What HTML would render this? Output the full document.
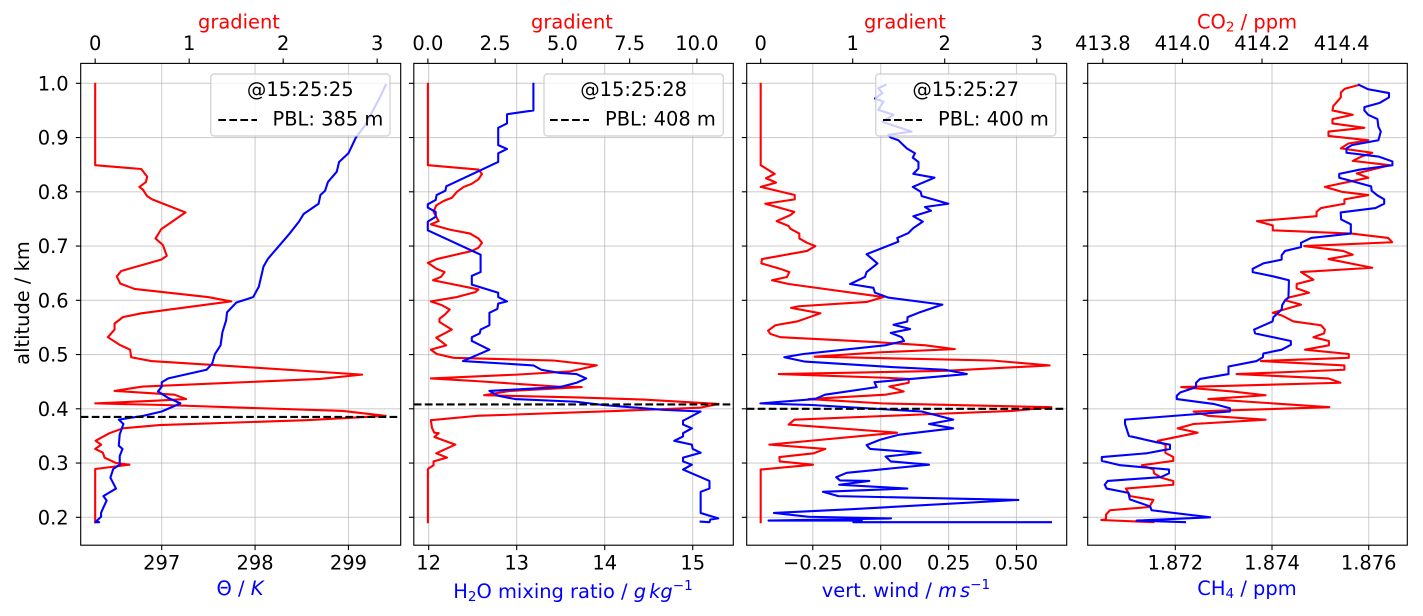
<!DOCTYPE html>
<html lang="en">
<head>
<meta charset="utf-8">
<title>Vertical profiles</title>
<style>
html,body{margin:0;padding:0;background:#fff;width:1423px;height:616px;overflow:hidden}
svg{display:block}
text{font-family:"DejaVu Sans","Liberation Sans",sans-serif;font-size:19.44px;fill:#000}
.red{fill:#f00}.blue{fill:#00f}
.frame{fill:none;stroke:#000;stroke-width:1.11}
.legend-box{fill:#fff;fill-opacity:.8;stroke:#ccc;stroke-opacity:.8;stroke-width:1.4}
.legend-line{stroke:#000;stroke-width:2.08;stroke-dasharray:7.7 3.33}
</style>
</head>
<body>
<svg xmlns="http://www.w3.org/2000/svg" width="1423" height="616" viewBox="0 0 1423 616">
  <rect width="1423" height="616" fill="#fff"/>

  <g id="panel-0"></g>
  <g>
    <rect class="legend-box" x="210.7" y="74" width="179.3" height="62" rx="3.5"/>
    <text x="300.3" y="96" text-anchor="middle">@15:25:25</text>
    <line class="legend-line" x1="218.3" x2="257" y1="120" y2="120"/>
    <text x="272.5" y="125.5">PBL: 385 m</text>
  </g>

  <g id="panel-1"></g>
  <g>
    <rect class="legend-box" x="544" y="74" width="179.3" height="62" rx="3.5"/>
    <text x="633.6" y="96" text-anchor="middle">@15:25:28</text>
    <line class="legend-line" x1="550" x2="589" y1="120" y2="120"/>
    <text x="605" y="125.5">PBL: 408 m</text>
  </g>

  <g id="panel-2"></g>
  <g>
    <rect class="legend-box" x="875.7" y="74" width="180" height="62" rx="3.5"/>
    <text x="965.7" y="96" text-anchor="middle">@15:25:27</text>
    <line class="legend-line" x1="883" x2="922" y1="120" y2="120"/>
    <text x="938" y="125.5">PBL: 400 m</text>
  </g>

  <g id="panel-3"></g>

  <g id="frames"></g>
  <g id="ticks"></g>

  <text class="red" x="239" y="28.5" text-anchor="middle">gradient</text>
  <text class="red" x="572" y="28.5" text-anchor="middle">gradient</text>
  <text class="red" x="905" y="28.5" text-anchor="middle">gradient</text>
  <text class="red" x="1247" y="28.5" text-anchor="middle">CO<tspan dy="3" style="font-size:13.6px">2</tspan><tspan dy="-3"> / ppm</tspan></text>

  <text class="blue" x="240" y="595" text-anchor="middle">Θ / <tspan font-style="italic">K</tspan></text>
  <text class="blue" x="573" y="598" text-anchor="middle">H<tspan dy="3" style="font-size:13.6px">2</tspan><tspan dy="-3">O mixing ratio / </tspan><tspan font-style="italic">g</tspan><tspan font-style="italic" dx="3">kg</tspan><tspan dy="-8" style="font-size:13.6px">−1</tspan></text>
  <text class="blue" x="906" y="597" text-anchor="middle">vert. wind / <tspan font-style="italic">m</tspan><tspan font-style="italic" dx="3">s</tspan><tspan dy="-8" style="font-size:13.6px">−1</tspan></text>
  <text class="blue" x="1247" y="595" text-anchor="middle">CH<tspan dy="3" style="font-size:13.6px">4</tspan><tspan dy="-3"> / ppm</tspan></text>

  <text x="29" y="303" text-anchor="middle" transform="rotate(-90 29 303)">altitude / km</text>
</svg>

<script>
// ---- shared altitude axis ----
const altitudeTicks = [0.2, 0.3, 0.4, 0.5, 0.6, 0.7, 0.8, 0.9, 1.0];
const altitudeTickLabels = ["0.2", "0.3", "0.4", "0.5", "0.6", "0.7", "0.8", "0.9", "1.0"];

// ---- panel 1: potential temperature ----
const thetaAltitude = [.997,.975,.923,.9,.871,.855,.837,.818,.802,.794,.778,.759,.745,.723,.695,.677,.662,.625,.606,.603,.596,.578,.563,.541,.517,.501,.483,.472,.456,.449,.441,.432,.42,.41,.395,.387,.38,.372,.353,.332,.326,.313,.297,.289,.273,.253,.239,.231,.218,.208,.201,.193,.191,.191];
const thetaValues = [299.4,299.34,299.18,299.08,299,298.9,298.875,298.78,298.75,298.7,298.68,298.52,298.47,298.37,298.23,298.14,298.09,298.04,297.98,297.93,297.8,297.7,297.69,297.65,297.63,297.57,297.54,297.48,297.07,297,297,296.96,297.07,297.2,297,296.8,296.54,296.59,296.55,296.54,296.58,296.55,296.55,296.48,296.45,296.51,296.375,296.41,296.375,296.35,296.35,296.3,296.33,296.29];
const thetaGradAltitude = [.999,.849,.842,.828,.818,.809,.804,.792,.786,.762,.731,.714,.702,.682,.675,.654,.644,.631,.621,.606,.598,.594,.576,.569,.557,.546,.532,.518,.509,.495,.488,.477,.463,.455,.441,.433,.426,.418,.415,.41,.407,.396,.387,.379,.37,.364,.355,.341,.334,.326,.319,.31,.3,.297,.289,.191];
const thetaGradValues = [0,0,.49,.553,.54,.47,.507,.553,.606,.961,.702,.642,.72,.762,.702,.277,.23,.266,.418,1.199,1.447,1.27,.49,.294,.206,.206,.135,.259,.372,.383,.596,1.606,2.84,2.39,.507,.206,.844,.968,.649,0,.727,2.635,3.09,2.245,.684,.294,.152,.004,.064,0,.082,.1,.223,.365,0,0];
const thetaTicks = [297, 298, 299];
const thetaTickLabels = ["297", "298", "299"];
const thetaGradTicks = [0, 1, 2, 3];
const thetaGradTickLabels = ["0", "1", "2", "3"];
const thetaPbl = 0.385;

// ---- panel 2: water vapour ----
const waterAltitude = [.999,.95,.943,.926,.918,.886,.879,.871,.855,.81,.802,.794,.785,.777,.771,.763,.754,.745,.729,.684,.652,.645,.629,.614,.606,.598,.594,.584,.577,.554,.546,.539,.532,.525,.509,.488,.48,.472,.466,.464,.456,.448,.44,.433,.424,.418,.413,.407,.398,.395,.378,.371,.364,.355,.349,.341,.334,.326,.319,.31,.303,.297,.288,.267,.253,.247,.208,.198,.196,.191,.192];
const waterValues = [13.19,13.19,12.89,12.89,12.79,12.79,12.89,12.79,12.79,12.2,12.19,12.09,12.08,11.99,11.99,12.08,12.08,11.99,11.99,12.59,12.59,12.49,12.49,12.79,12.79,12.89,12.79,12.78,12.69,12.69,12.59,12.58,12.49,12.49,12.69,12.39,13.19,13.28,13.49,13.68,13.79,13.68,13.49,12.69,12.79,12.98,13.68,13.98,14.67,15.09,14.89,14.89,14.99,14.89,14.89,14.79,14.99,15,15.09,14.89,14.89,14.99,14.89,15.19,15.19,15.09,15.09,15.29,15.2,15.19,15.09];
const waterGradAltitude = [.999,.849,.841,.833,.823,.815,.809,.8,.789,.783,.775,.763,.754,.746,.74,.73,.723,.714,.706,.697,.691,.676,.669,.658,.652,.643,.637,.62,.615,.606,.598,.591,.583,.574,.566,.56,.546,.538,.531,.517,.509,.501,.494,.489,.48,.469,.463,.456,.451,.441,.44,.433,.425,.421,.417,.409,.402,.396,.387,.379,.365,.356,.355,.348,.334,.318,.31,.303,.296,.29,.288,.191];
const waterGradValues = [0,0,1.88,2.01,1.88,1.64,1.33,1.08,.89,.58,.31,.21,.31,.4,.11,.83,1.57,1.88,2.01,1.88,1.64,.33,0,.33,.62,.48,.19,1.88,1.76,1.08,.11,.52,.81,.64,.43,.43,.89,.58,.31,.68,.11,.33,.95,4.67,6.28,5.29,3.31,.11,1.82,4.8,5.72,3.06,2.09,5.54,8.02,10.8,10.12,7.03,1.82,.11,.15,.24,.4,.24,1.02,.31,.71,.21,.21,.02,0,0];
const waterTicks = [12, 13, 14, 15];
const waterTickLabels = ["12", "13", "14", "15"];
const waterGradTicks = [0, 2.5, 5, 7.5, 10];
const waterGradTickLabels = ["0.0", "2.5", "5.0", "7.5", "10.0"];
const waterPbl = 0.408;

// ---- panel 3: vertical wind ----
const windAltitude = [.997,.991,.982,.972,.966,.951,.942,.929,.911,.905,.9,.895,.88,.871,.863,.855,.843,.833,.826,.809,.8,.792,.778,.772,.765,.755,.745,.733,.724,.715,.708,.685,.668,.652,.643,.63,.623,.614,.605,.592,.577,.569,.561,.555,.547,.54,.532,.525,.517,.501,.495,.487,.477,.472,.464,.453,.449,.44,.426,.418,.41,.407,.395,.38,.372,.364,.352,.343,.333,.326,.319,.312,.303,.297,.282,.274,.268,.267,.26,.253,.247,.239,.232,.215,.208,.201,.198,.194,.194,.191,.191];
const windValues = [.018,-.009,.006,-.021,.01,-.009,.047,.006,.114,.028,.037,.065,.096,.126,.118,.139,.139,.12,.198,.118,.147,.151,.249,.163,.185,.12,.155,.12,.102,.061,.065,-.052,-.012,-.052,-.058,-.113,-.027,-.021,.028,.227,.139,.099,.098,.047,.108,.037,.077,.086,.016,-.285,-.355,-.279,.04,.237,.317,.065,-.023,-.015,-.205,-.242,-.443,-.254,.151,.267,.178,.267,.065,-.002,-.052,-.039,.147,.018,.037,.178,-.125,-.164,-.15,-.042,-.153,.098,-.213,-.156,.507,-.107,-.393,-.266,.038,-.413,-.07,-.101,.627];
const windGradAltitude = [.999,.849,.833,.825,.817,.809,.794,.786,.778,.763,.757,.746,.737,.732,.723,.714,.706,.7,.691,.676,.668,.658,.652,.643,.637,.63,.625,.606,.597,.589,.586,.576,.561,.554,.544,.538,.532,.523,.517,.51,.504,.496,.489,.48,.47,.464,.457,.455,.448,.441,.432,.426,.418,.41,.403,.396,.39,.38,.371,.356,.334,.326,.318,.311,.303,.297,.288,.191];
const windGradValues = [0,0,.152,.058,.167,0,.37,.37,.05,.366,.322,.174,.304,.322,.42,.42,.504,.594,.504,.014,.007,.214,.312,.286,.123,.304,.52,1.337,1.156,.413,.33,.649,.395,.159,.08,.105,.214,1.246,1.79,2.11,1.28,.587,2.514,3.14,2.007,.196,1.391,1.609,1.609,1.398,1.554,1.355,.52,1.32,3.16,2.73,1.808,.366,.304,1.482,.094,.703,.576,.203,.207,.569,0,0];
const windTicks = [-0.25, 0, 0.25, 0.5];
const windTickLabels = ["−0.25", "0.00", "0.25", "0.50"];
const windGradTicks = [0, 1, 2, 3];
const windGradTickLabels = ["0", "1", "2", "3"];
const windPbl = 0.400;

// ---- panel 4: trace gases ----
const ch4Altitude = [.997,.989,.982,.974,.964,.956,.95,.942,.934,.92,.911,.895,.886,.88,.872,.865,.856,.849,.841,.833,.826,.818,.81,.802,.794,.786,.778,.77,.762,.749,.74,.723,.715,.706,.698,.691,.683,.675,.668,.658,.652,.644,.637,.605,.6,.591,.583,.569,.561,.546,.539,.525,.518,.509,.502,.495,.488,.478,.464,.455,.448,.44,.43,.424,.418,.409,.401,.395,.38,.372,.35,.338,.334,.326,.318,.311,.304,.296,.288,.281,.274,.267,.26,.253,.245,.233,.22,.213,.2,.194,.191];
const ch4Values = [1.8758,1.87599,1.87642,1.87642,1.87623,1.87591,1.87591,1.87599,1.87618,1.8762,1.87625,1.8762,1.87565,1.87554,1.87554,1.8762,1.87649,1.87649,1.87582,1.87539,1.87539,1.87572,1.87605,1.87606,1.87617,1.87632,1.87632,1.87614,1.87542,1.87543,1.87563,1.87563,1.87481,1.8746,1.8746,1.87427,1.8742,1.8742,1.87382,1.8736,1.8736,1.87403,1.87435,1.87434,1.87427,1.87421,1.8742,1.87403,1.87401,1.87363,1.87365,1.87439,1.87439,1.8742,1.87382,1.87381,1.87368,1.8731,1.8731,1.87251,1.87243,1.87243,1.8721,1.87203,1.87203,1.87279,1.87313,1.87313,1.87096,1.87096,1.87104,1.87163,1.87189,1.87189,1.87141,1.87048,1.87048,1.87086,1.87187,1.87187,1.8717,1.8706,1.87054,1.87058,1.87103,1.87106,1.87148,1.87151,1.87272,1.8712,1.8722];
const co2Altitude = [.997,.99,.983,.974,.958,.95,.942,.934,.926,.918,.911,.903,.895,.889,.88,.872,.865,.857,.849,.834,.826,.809,.8,.794,.786,.778,.77,.763,.755,.746,.738,.729,.723,.715,.707,.7,.691,.684,.676,.66,.652,.638,.63,.622,.614,.605,.6,.592,.577,.572,.561,.554,.546,.539,.532,.525,.517,.509,.501,.494,.488,.48,.472,.464,.456,.448,.44,.432,.425,.418,.403,.395,.387,.38,.372,.364,.356,.341,.333,.319,.311,.304,.296,.288,.281,.273,.267,.26,.253,.239,.232,.219,.213,.205,.196,.195,.191];
const co2Values = [414.444,414.408,414.398,414.398,414.379,414.377,414.428,414.377,414.377,414.457,414.367,414.367,414.467,414.417,414.398,414.477,414.45,414.428,414.521,414.438,414.467,414.358,414.4,414.467,414.407,414.407,414.348,414.337,414.337,414.187,414.227,414.227,414.425,414.517,414.527,414.306,414.404,414.428,414.367,414.477,414.298,414.329,414.287,414.287,414.318,414.266,414.258,414.298,414.227,414.25,414.279,414.348,414.358,414.356,414.329,414.368,414.368,414.308,414.418,414.418,414.197,414.407,414.407,414.136,414.367,414.397,413.997,414.124,414.209,414.065,414.369,414.028,414.065,414.209,414.028,413.988,414.038,413.938,413.958,413.957,413.977,413.977,413.898,413.927,413.929,413.947,413.977,413.977,413.858,413.869,413.927,413.917,413.818,413.808,413.808,413.796,413.927];
const ch4Ticks = [1.872, 1.874, 1.876];
const ch4TickLabels = ["1.872", "1.874", "1.876"];
const co2Ticks = [413.8, 414.0, 414.2, 414.4];
const co2TickLabels = ["413.8", "414.0", "414.2", "414.4"];

// ---- axes ----
const SVG_NS = "http://www.w3.org/2000/svg";
const plotTop = 63.4, plotBottom = 545.2;
const altitudeAt1 = 83.3, pxPerKm = 542.5;
function yAxis(alt) { return altitudeAt1 + (1 - alt) * pxPerKm; }
function linearAxis(domainMin, domainMax, left, right) {
  return function (v) { return left + (v - domainMin) / (domainMax - domainMin) * (right - left); };
}
function make(tag, attrs, parent) {
  const el = document.createElementNS(SVG_NS, tag);
  for (const k in attrs) el.setAttribute(k, attrs[k]);
  parent.appendChild(el);
  return el;
}
const ticksLayer = document.getElementById("ticks");
const framesLayer = document.getElementById("frames");

function drawBottomTicks(prefix, scale, values, labels, withGrid, gridLayer) {
  values.forEach(function (v, i) {
    const x = scale(v);
    if (withGrid) {
      const g = make("line", { x1: x, x2: x, y1: plotTop, y2: plotBottom, stroke: "#b0b0b0", "stroke-opacity": 0.6, "stroke-width": 1.1 }, gridLayer);
      
      
    }
    const t = make("line", { x1: x, x2: x, y1: plotBottom, y2: plotBottom + 4.9, stroke: "#000", "stroke-width": 1.11 }, ticksLayer);
    
    
    const l = make("text", { x: x, y: 569.3, "text-anchor": "middle" }, ticksLayer);
    l.textContent = labels[i];
    
    
  });
}
function drawTopTicks(prefix, scale, values, labels) {
  values.forEach(function (v, i) {
    const x = scale(v);
    const t = make("line", { x1: x, x2: x, y1: plotTop - 4.9, y2: plotTop, stroke: "#000", "stroke-width": 1.11 }, ticksLayer);
    
    
    const l = make("text", { x: x, y: 50, "text-anchor": "middle" }, ticksLayer);
    l.textContent = labels[i];
    
    
  });
}
function drawSeries(group, name, altitudes, values, scale, color) {
  const pts = altitudes.map(function (a, i) { return scale(values[i]).toFixed(2) + "," + yAxis(a).toFixed(2); }).join(" ");
  const line = make("polyline", { points: pts, fill: "none", stroke: color, "stroke-width": 2.08, "stroke-linejoin": "round", "stroke-linecap": "square" }, group);
  
  
}
function drawPanel(cfg) {
  const group = document.getElementById(cfg.id);
  const gridLayer = make("g", {}, group);
  
  

  altitudeTicks.forEach(function (a, i) {
    const y = yAxis(a);
    const g = make("line", { x1: cfg.left, x2: cfg.right, y1: y, y2: y, stroke: "#b0b0b0", "stroke-opacity": 0.6, "stroke-width": 1.1 }, gridLayer);
    
    
    const t = make("line", { x1: cfg.left - 4.9, x2: cfg.left, y1: y, y2: y, stroke: "#000", "stroke-width": 1.11 }, ticksLayer);
    
    
    if (cfg.showAltitudeLabels) {
      const l = make("text", { x: cfg.left - 12, y: y + 7, "text-anchor": "end" }, ticksLayer);
      l.textContent = altitudeTickLabels[i];
      
      
    }
  });

  drawBottomTicks(cfg.prefix, cfg.bottomScale, cfg.bottomTicks, cfg.bottomLabels, true, gridLayer);
  drawTopTicks(cfg.prefix, cfg.topScale, cfg.topTicks, cfg.topLabels);

  drawSeries(group, cfg.prefix + "-red-series", cfg.redAlt, cfg.redVal, cfg.topScale, "#f00");
  drawSeries(group, cfg.prefix + "-blue-series", cfg.blueAlt, cfg.blueVal, cfg.bottomScale, "#00f");

  if (cfg.pbl !== null) {
    const y = yAxis(cfg.pbl);
    const p = make("line", { x1: cfg.left, x2: cfg.right - 3, y1: y, y2: y, stroke: "#000", "stroke-width": 2.08, "stroke-dasharray": "7.7 3.33" }, group);
    
    
  }

  const f = make("rect", { x: cfg.left, y: plotTop, width: cfg.right - cfg.left, height: plotBottom - plotTop, "class": "frame" }, framesLayer);
  
  
}

drawPanel({
  id: "panel-0", prefix: "theta", left: 80.7, right: 400.7, showAltitudeLabels: true,
  bottomScale: linearAxis(296.132, 299.56, 80.7, 400.7), topScale: linearAxis(-0.154, 3.25, 80.7, 400.7),
  bottomTicks: thetaTicks, bottomLabels: thetaTickLabels, topTicks: thetaGradTicks, topLabels: thetaGradTickLabels,
  redAlt: thetaGradAltitude, redVal: thetaGradValues, blueAlt: thetaAltitude, blueVal: thetaValues, pbl: thetaPbl
});
drawPanel({
  id: "panel-1", prefix: "water", left: 413.8, right: 733.3, showAltitudeLabels: false,
  bottomScale: linearAxis(11.831, 15.461, 413.8, 733.3), topScale: linearAxis(-0.524, 11.353, 413.8, 733.3),
  bottomTicks: waterTicks, bottomLabels: waterTickLabels, topTicks: waterGradTicks, topLabels: waterGradTickLabels,
  redAlt: waterGradAltitude, redVal: waterGradValues, blueAlt: waterAltitude, blueVal: waterValues, pbl: waterPbl
});
drawPanel({
  id: "panel-2", prefix: "wind", left: 746.7, right: 1066.7, showAltitudeLabels: false,
  bottomScale: linearAxis(-0.4934, 0.6848, 746.7, 1066.7), topScale: linearAxis(-0.152, 3.326, 746.7, 1066.7),
  bottomTicks: windTicks, bottomLabels: windTickLabels, topTicks: windGradTicks, topLabels: windGradTickLabels,
  redAlt: windGradAltitude, redVal: windGradValues, blueAlt: windAltitude, blueVal: windValues, pbl: windPbl
});
drawPanel({
  id: "panel-3", prefix: "gas", left: 1087.7, right: 1407.3, showAltitudeLabels: false,
  bottomScale: linearAxis(1.870188, 1.876798, 1087.7, 1407.3), topScale: linearAxis(413.762, 414.565, 1087.7, 1407.3),
  bottomTicks: ch4Ticks, bottomLabels: ch4TickLabels, topTicks: co2Ticks, topLabels: co2TickLabels,
  redAlt: co2Altitude, redVal: co2Values, blueAlt: ch4Altitude, blueVal: ch4Values, pbl: null
});
</script>
</body>
</html>
